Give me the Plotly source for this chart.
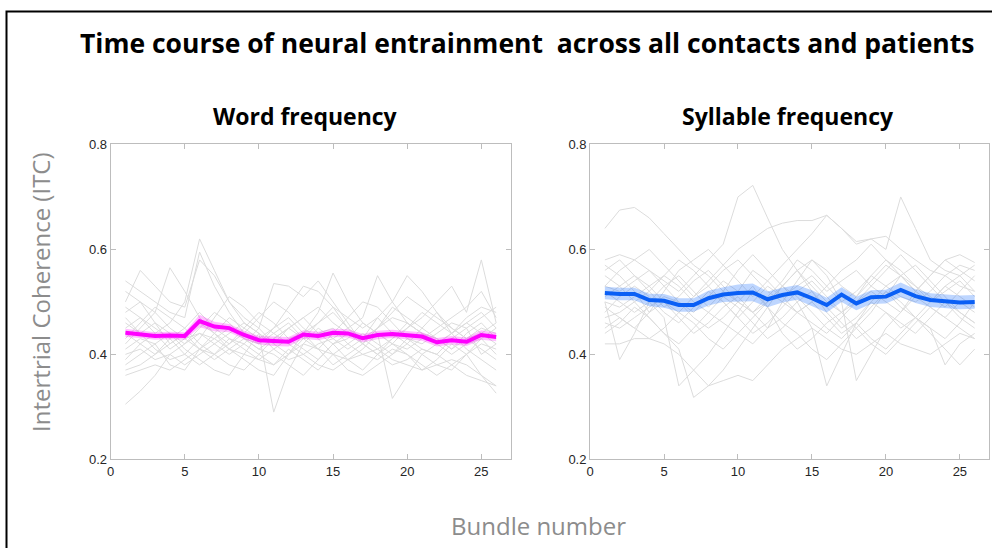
import plotly.graph_objects as go

W, H = 992, 548

bundles = list(range(1, 27))

# Per-contact ITC time courses, word frequency
word_contacts = [
    [0.305,0.33,0.36,0.40,0.42,0.44,0.43,0.41,0.40,0.39,0.38,0.40,0.42,0.41,0.40,0.39,0.40,0.41,0.39,0.38,0.37,0.38,0.39,0.38,0.36,0.34],
    [0.45,0.47,0.44,0.46,0.50,0.62,0.56,0.50,0.46,0.44,0.42,0.45,0.47,0.49,0.46,0.44,0.43,0.45,0.47,0.46,0.44,0.42,0.44,0.46,0.48,0.45],
    [0.54,0.52,0.50,0.48,0.47,0.595,0.53,0.48,0.44,0.42,0.44,0.46,0.43,0.41,0.44,0.47,0.50,0.49,0.46,0.43,0.41,0.40,0.43,0.45,0.47,0.49],
    [0.50,0.56,0.53,0.50,0.49,0.58,0.55,0.50,0.47,0.45,0.535,0.53,0.51,0.54,0.50,0.46,0.42,0.45,0.48,0.51,0.49,0.47,0.45,0.43,0.44,0.46],
    [0.42,0.45,0.48,0.565,0.52,0.47,0.44,0.41,0.39,0.37,0.36,0.40,0.44,0.48,0.555,0.50,0.46,0.44,0.42,0.41,0.43,0.45,0.47,0.49,0.52,0.47],
    [0.38,0.40,0.42,0.44,0.41,0.39,0.37,0.36,0.40,0.44,0.29,0.37,0.42,0.45,0.43,0.41,0.43,0.47,0.50,0.55,0.52,0.48,0.44,0.41,0.39,0.37],
    [0.47,0.44,0.41,0.39,0.40,0.43,0.47,0.51,0.49,0.46,0.44,0.42,0.40,0.38,0.37,0.39,0.41,0.44,0.316,0.36,0.40,0.42,0.44,0.46,0.44,0.42],
    [0.36,0.37,0.38,0.37,0.39,0.41,0.40,0.38,0.37,0.40,0.43,0.45,0.47,0.44,0.42,0.39,0.37,0.40,0.43,0.45,0.47,0.50,0.53,0.48,0.58,0.46],
    [0.44,0.42,0.40,0.42,0.44,0.46,0.44,0.42,0.44,0.47,0.50,0.48,0.45,0.43,0.40,0.37,0.36,0.38,0.40,0.42,0.40,0.38,0.37,0.40,0.36,0.326],
    [0.49,0.47,0.45,0.43,0.45,0.48,0.45,0.43,0.41,0.39,0.41,0.43,0.44,0.46,0.48,0.45,0.42,0.40,0.38,0.39,0.41,0.40,0.38,0.36,0.35,0.34],
    [0.40,0.41,0.39,0.40,0.38,0.40,0.42,0.44,0.46,0.44,0.41,0.39,0.40,0.42,0.43,0.45,0.47,0.55,0.50,0.46,0.44,0.43,0.41,0.43,0.45,0.44],
    [0.43,0.46,0.49,0.47,0.45,0.42,0.40,0.42,0.45,0.48,0.46,0.43,0.41,0.39,0.42,0.44,0.42,0.40,0.42,0.45,0.48,0.46,0.44,0.47,0.49,0.48],
    [0.52,0.50,0.48,0.45,0.43,0.41,0.44,0.47,0.45,0.43,0.45,0.49,0.53,0.52,0.49,0.45,0.43,0.41,0.43,0.46,0.44,0.42,0.40,0.42,0.43,0.45],
    [0.37,0.38,0.40,0.43,0.40,0.38,0.40,0.43,0.42,0.40,0.38,0.41,0.39,0.37,0.40,0.42,0.40,0.39,0.41,0.40,0.38,0.36,0.38,0.40,0.42,0.41],
    [0.46,0.44,0.46,0.44,0.42,0.45,0.48,0.46,0.43,0.41,0.43,0.45,0.43,0.46,0.49,0.47,0.45,0.47,0.44,0.42,0.45,0.43,0.41,0.44,0.46,0.43],
    [0.41,0.43,0.42,0.38,0.37,0.41,0.43,0.45,0.43,0.41,0.40,0.38,0.36,0.39,0.42,0.43,0.46,0.44,0.42,0.40,0.37,0.39,0.42,0.40,0.43,0.40],
    [0.48,0.50,0.46,0.42,0.44,0.41,0.39,0.41,0.43,0.42,0.45,0.47,0.44,0.41,0.38,0.40,0.42,0.45,0.49,0.47,0.45,0.48,0.45,0.43,0.41,0.39],
    [0.39,0.42,0.44,0.41,0.43,0.44,0.42,0.40,0.42,0.45,0.42,0.40,0.43,0.44,0.45,0.42,0.44,0.42,0.40,0.43,0.42,0.44,0.46,0.45,0.40,0.42],
]

# Per-contact ITC time courses, syllable frequency
syllable_contacts = [
    [0.64,0.675,0.68,0.66,0.63,0.60,0.57,0.55,0.52,0.50,0.48,0.50,0.53,0.56,0.58,0.56,0.53,0.51,0.54,0.57,0.55,0.52,0.50,0.53,0.55,0.52],
    [0.58,0.59,0.58,0.56,0.54,0.52,0.55,0.58,0.61,0.70,0.722,0.66,0.60,0.56,0.53,0.50,0.48,0.51,0.55,0.58,0.56,0.53,0.51,0.49,0.52,0.55],
    [0.42,0.42,0.43,0.43,0.42,0.40,0.37,0.34,0.35,0.36,0.35,0.38,0.41,0.43,0.45,0.43,0.41,0.40,0.42,0.44,0.42,0.41,0.40,0.42,0.44,0.43],
    [0.50,0.39,0.44,0.50,0.47,0.34,0.37,0.40,0.44,0.48,0.52,0.49,0.46,0.44,0.41,0.39,0.42,0.45,0.48,0.52,0.50,0.47,0.45,0.38,0.42,0.44],
    [0.55,0.53,0.50,0.47,0.44,0.41,0.318,0.34,0.37,0.41,0.45,0.49,0.53,0.56,0.52,0.48,0.45,0.47,0.50,0.53,0.55,0.57,0.54,0.51,0.48,0.46],
    [0.57,0.55,0.52,0.48,0.52,0.56,0.58,0.60,0.57,0.54,0.51,0.54,0.57,0.60,0.63,0.665,0.64,0.61,0.62,0.60,0.70,0.64,0.58,0.56,0.55,0.57],
    [0.47,0.48,0.50,0.52,0.55,0.53,0.50,0.48,0.46,0.44,0.42,0.45,0.50,0.54,0.58,0.55,0.50,0.35,0.40,0.45,0.48,0.52,0.55,0.58,0.56,0.54],
    [0.52,0.50,0.48,0.50,0.53,0.55,0.52,0.49,0.52,0.56,0.59,0.56,0.53,0.50,0.45,0.34,0.40,0.46,0.50,0.48,0.45,0.47,0.50,0.53,0.51,0.49],
    [0.45,0.47,0.45,0.43,0.45,0.48,0.46,0.43,0.41,0.44,0.47,0.50,0.53,0.51,0.48,0.45,0.43,0.46,0.49,0.52,0.49,0.47,0.44,0.41,0.38,0.41],
    [0.53,0.56,0.58,0.60,0.57,0.54,0.51,0.53,0.56,0.58,0.55,0.52,0.50,0.48,0.50,0.53,0.56,0.58,0.61,0.58,0.55,0.52,0.55,0.58,0.59,0.575],
    [0.49,0.47,0.45,0.48,0.50,0.47,0.44,0.46,0.49,0.51,0.48,0.45,0.47,0.50,0.52,0.49,0.46,0.43,0.45,0.48,0.46,0.44,0.47,0.50,0.48,0.46],
    [0.51,0.53,0.55,0.53,0.50,0.48,0.51,0.54,0.57,0.60,0.62,0.64,0.65,0.655,0.655,0.665,0.64,0.615,0.62,0.625,0.60,0.58,0.56,0.55,0.53,0.52],
    [0.46,0.45,0.47,0.49,0.51,0.50,0.47,0.45,0.47,0.50,0.53,0.49,0.44,0.41,0.43,0.46,0.48,0.45,0.42,0.40,0.43,0.46,0.49,0.47,0.45,0.43],
    [0.56,0.58,0.55,0.52,0.49,0.51,0.54,0.56,0.53,0.50,0.48,0.51,0.54,0.58,0.56,0.53,0.50,0.52,0.55,0.53,0.51,0.50,0.52,0.55,0.57,0.56],
    [0.50,0.49,0.51,0.53,0.55,0.58,0.56,0.53,0.50,0.47,0.44,0.46,0.49,0.52,0.54,0.51,0.48,0.50,0.53,0.56,0.59,0.56,0.53,0.50,0.47,0.45],
    [0.48,0.51,0.53,0.51,0.48,0.46,0.49,0.52,0.50,0.47,0.50,0.53,0.51,0.48,0.46,0.44,0.47,0.50,0.52,0.50,0.48,0.51,0.49,0.47,0.50,0.48],
    [0.53,0.52,0.54,0.56,0.53,0.50,0.48,0.51,0.54,0.52,0.56,0.54,0.51,0.53,0.55,0.52,0.54,0.56,0.53,0.51,0.55,0.53,0.50,0.52,0.54,0.51],
    [0.44,0.46,0.49,0.47,0.44,0.42,0.45,0.48,0.51,0.49,0.46,0.43,0.45,0.48,0.50,0.47,0.44,0.46,0.43,0.41,0.44,0.47,0.45,0.43,0.46,0.50],
]

# Grand-average ITC and its standard error
word_mean = [0.441,0.438,0.435,0.436,0.435,0.4635,0.453,0.450,0.437,0.427,0.425,0.424,0.438,0.435,0.441,0.440,0.431,0.437,0.439,0.437,0.434,0.423,0.427,0.424,0.437,0.433]
word_sem = [0.008,0.007,0.007,0.007,0.007,0.012,0.009,0.008,0.008,0.008,0.009,0.009,0.008,0.008,0.008,0.008,0.008,0.008,0.008,0.008,0.008,0.008,0.008,0.008,0.009,0.008]

syllable_mean = [0.517,0.515,0.515,0.5035,0.502,0.494,0.494,0.507,0.514,0.517,0.518,0.505,0.513,0.518,0.507,0.494,0.514,0.497,0.509,0.510,0.523,0.511,0.5035,0.501,0.499,0.500]
syllable_sem = [0.012,0.012,0.012,0.012,0.013,0.013,0.013,0.014,0.014,0.016,0.017,0.015,0.014,0.014,0.015,0.014,0.014,0.013,0.013,0.013,0.014,0.013,0.013,0.013,0.013,0.013]

x_ticks = [0, 5, 10, 15, 20, 25]
y_ticks = [0.2, 0.4, 0.6, 0.8]
y_tick_text = ["0.2", "0.4", "0.6", "0.8"]


# Convert pixel positions to paper fractions (with a small page offset/scale correction)
def fx(px):
    return ((px - 3.5) / 0.995) / W


def fy(py):
    return 1 - ((py - 7.5) / 0.973) / H


fig = go.Figure()


def add_panel(contacts, mean, sem, line_color, band_color, xa, ya):
    for c in contacts:
        fig.add_trace(go.Scatter(x=bundles, y=c, mode="lines",
                                 line=dict(color="#dcdcdc", width=1),
                                 xaxis=xa, yaxis=ya, hoverinfo="skip", showlegend=False))
    upper = [m + s for m, s in zip(mean, sem)]
    lower = [m - s for m, s in zip(mean, sem)]
    fig.add_trace(go.Scatter(x=bundles + bundles[::-1], y=upper + lower[::-1],
                             fill="toself", fillcolor=band_color, mode="lines",
                             line=dict(width=0), xaxis=xa, yaxis=ya,
                             hoverinfo="skip", showlegend=False))
    fig.add_trace(go.Scatter(x=bundles, y=mean, mode="lines",
                             line=dict(color=line_color, width=4),
                             xaxis=xa, yaxis=ya, showlegend=False))


add_panel(word_contacts, word_mean, word_sem, "#ff00ff", "rgba(255,0,255,0.25)", "x", "y")
add_panel(syllable_contacts, syllable_mean, syllable_sem, "#0a5ff5", "rgba(40,120,255,0.30)", "x2", "y2")

y_dom = [fy(460), fy(145)]
axis_common = dict(showline=True, linecolor="#bdbdbd", linewidth=1, mirror="ticks",
                   ticks="inside", ticklen=5, tickcolor="#bdbdbd", showgrid=False,
                   zeroline=False, tickfont=dict(family="Liberation Sans", size=13, color="#262626"))

fig.update_layout(
    width=W, height=H,
    margin=dict(l=0, r=0, t=0, b=0),
    paper_bgcolor="white", plot_bgcolor="white",
    xaxis=dict(domain=[fx(110), fx(510)], range=[0, 27], tickvals=x_ticks, anchor="y", **axis_common),
    yaxis=dict(domain=y_dom, range=[0.2, 0.8], tickvals=y_ticks, ticktext=y_tick_text,
               anchor="x", **axis_common),
    xaxis2=dict(domain=[fx(589), min(fx(988), 1.0)], range=[0, 27], tickvals=x_ticks, anchor="y2", **axis_common),
    yaxis2=dict(domain=y_dom, range=[0.2, 0.8], tickvals=y_ticks, ticktext=y_tick_text,
                anchor="x2", **axis_common),
)

title_font = dict(family="Open Sans", size=26.5, color="black", weight="bold")
sub_font = dict(family="Open Sans", size=23, color="black", weight="bold")
label_font = dict(family="Open Sans", size=24, color="#8c8c8c")

fig.add_annotation(text="Time course of neural entrainment  across all contacts and patients",
                   x=fx(526), y=fy(44), xref="paper", yref="paper", showarrow=False,
                   font=title_font, xanchor="center", yanchor="middle")
fig.add_annotation(text="Word frequency", x=fx(305), y=fy(117), xref="paper", yref="paper",
                   showarrow=False, font=sub_font, xanchor="center", yanchor="middle")
fig.add_annotation(text="Syllable frequency", x=fx(787), y=fy(117), xref="paper", yref="paper",
                   showarrow=False, font=sub_font, xanchor="center", yanchor="middle")
fig.add_annotation(text="Intertrial Coherence (ITC)", x=fx(40), y=fy(293), xref="paper", yref="paper",
                   showarrow=False, font=label_font, textangle=-90, xanchor="center", yanchor="middle")
fig.add_annotation(text="Bundle number", x=fx(537), y=fy(526), xref="paper", yref="paper",
                   showarrow=False, font=label_font, xanchor="center", yanchor="middle")

# Outer frame
fig.add_shape(type="rect", xref="paper", yref="paper",
              x0=fx(6), x1=1.02, y0=-0.02, y1=fy(12),
              line=dict(color="black", width=2), fillcolor="rgba(0,0,0,0)")

fig.write_html("out.html")
